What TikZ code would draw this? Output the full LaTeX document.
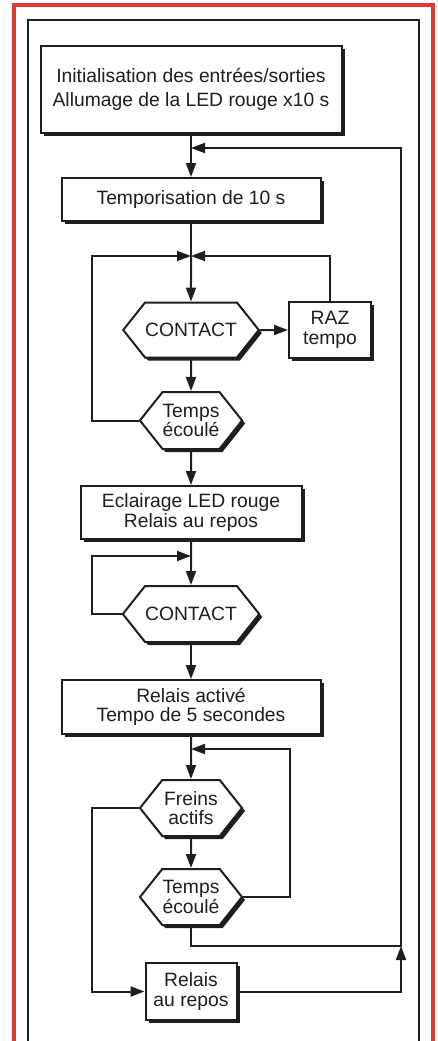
\documentclass[tikz,border=0pt]{standalone}
\usepackage{fontspec}
\setmainfont{Liberation Sans}
\usetikzlibrary{arrows.meta,shapes.symbols,shadows}
\definecolor{framered}{RGB}{224,58,51}
\definecolor{ink}{RGB}{30,30,30}

\begin{document}
\begin{tikzpicture}[x=1pt,y=-1pt,
  every node/.style={font=\fontsize{19.3}{19.5}\selectfont,text=ink},
  wire/.style={draw=ink,line width=2pt},
  arr/.style={wire,-{Triangle[length=14pt,width=10pt]}},
  dropsh/.style={drop shadow={shadow xshift=3pt,shadow yshift=-3pt,opacity=1,fill=ink}},
  stepbox/.style={wire,fill=white,rectangle,align=center,inner sep=0pt,dropsh},
  testbox/.style={wire,fill=white,signal,signal to=west and east,signal pointer angle=103,align=center,inner sep=0pt,dropsh}]
\useasboundingbox (0,0) rectangle (437,1041);
\draw[framered,line width=4pt] (14,1045) -- (14,5.5) -- (433,5.5) -- (433,1045);
\draw[ink,line width=2pt] (27.7,1045) -- (27.7,20) -- (419,20) -- (419,1045);

\node[stepbox,minimum width=301,minimum height=87] (init) at (191,89.5) {Initialisation des entrées/sorties\\[4pt]Allumage de la LED rouge x10 s};
\node[stepbox,minimum width=259,minimum height=43] (tempo) at (191,199.5) {Temporisation de 10 s};
\node[testbox,minimum width=131,minimum height=55] (contact1) at (191,330) {CONTACT};
\node[stepbox,minimum width=82,minimum height=56] (raz) at (330,330) {RAZ\\tempo};
\node[testbox,minimum width=102,minimum height=57] (ecoule1) at (191,420.5) {Temps\\écoulé};
\node[stepbox,minimum width=221,minimum height=53] (eclair) at (191,512.5) {Eclairage LED rouge\\Relais au repos};
\node[testbox,minimum width=131,minimum height=56] (contact2) at (191,614) {CONTACT};
\node[stepbox,minimum width=259,minimum height=54] (relact) at (191,707) {Relais activé\\Tempo de 5 secondes};
\node[testbox,minimum width=102,minimum height=56] (freins) at (191,808) {Freins\\actifs};
\node[testbox,minimum width=102,minimum height=56] (ecoule2) at (191,897) {Temps\\écoulé};
\node[stepbox,minimum width=91,minimum height=57] (repos) at (191,991.5) {Relais\\au repos};

\coordinate (j1) at (191,148);
\coordinate (j2) at (191,256);
\coordinate (j3) at (191,556);
\coordinate (j4) at (191,749);
\coordinate (lrail) at (92,0);
\coordinate (mrail) at (290,0);
\coordinate (back) at (401,946);

\draw[arr] (init) -- (tempo);
\draw[wire] (tempo) -- (j2);
\draw[arr] (j2) -- (contact1);
\draw[arr] (contact1) -- (raz);
\draw[arr] (raz.north) |- (j2);
\draw[arr] (contact1) -- (ecoule1);
\draw[arr] (ecoule1.west) -- (ecoule1.west -| lrail) |- (j2);
\draw[arr] (ecoule1) -- (eclair);
\draw[arr] (eclair) -- (contact2);
\draw[arr] (contact2.west) -- (contact2.west -| lrail) |- (j3);
\draw[arr] (contact2) -- (relact);
\draw[arr] (relact) -- (freins);
\draw[arr] (freins) -- (ecoule2);
\draw[arr] (ecoule2.east) -- (ecoule2.east -| mrail) |- (j4);
\draw[arr] (freins.west) -- (freins.west -| lrail) |- (repos);
\draw[arr] (ecoule2) |- (back) -- (back |- j1) -- (j1);
\draw[arr] (repos) -| (back);
\end{tikzpicture}
\end{document}
